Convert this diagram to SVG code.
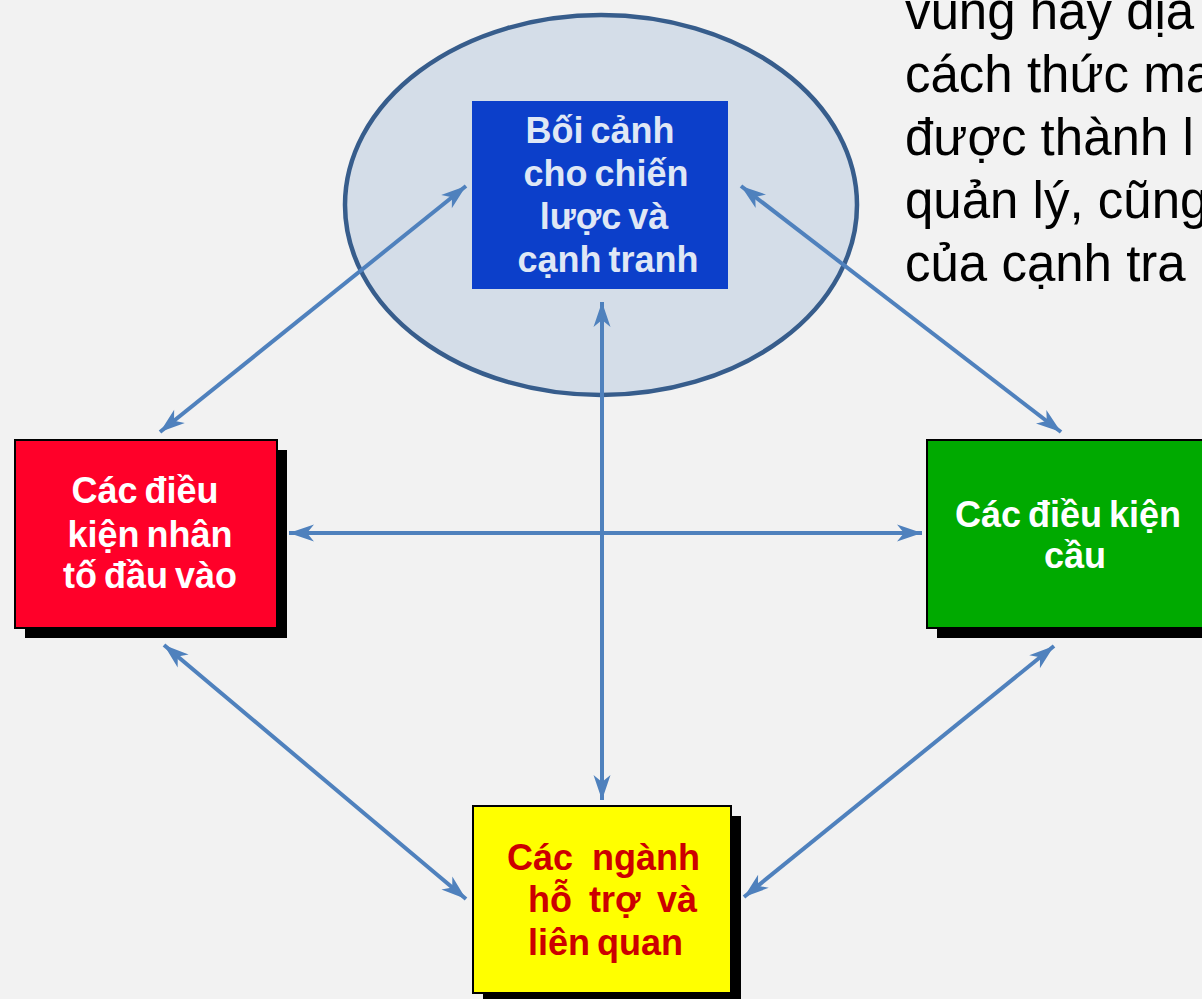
<svg xmlns="http://www.w3.org/2000/svg" width="1202" height="999" viewBox="0 0 1202 999">
  <style>
    .lbl { font-family: "Liberation Sans", Arial, sans-serif; font-weight: bold; font-size: 36px; text-anchor: middle; word-spacing: -3px; }
    .side { font-family: "Liberation Sans", Arial, sans-serif; font-size: 51px; fill: #000; }
    .link { stroke: #4f81bd; stroke-width: 4; fill: none; marker-start: url(#head); marker-end: url(#head); }
    .shadow { fill: #000; }
    .box { stroke: #000; stroke-width: 2; }
  </style>
  <defs>
    <marker id="head" markerUnits="userSpaceOnUse" viewBox="-26 -9 28 18" refX="0" refY="0" markerWidth="28" markerHeight="18" orient="auto-start-reverse">
      <path d="M0,0 L-25,-8.5 L-18,0 L-25,8.5 Z" fill="#4f81bd"/>
    </marker>
  </defs>

  <rect width="1202" height="999" fill="#f2f2f2"/>

  <!-- explanatory text running off the right edge -->
  <g id="side-text" class="side">
    <text x="905" y="29">vùng hay địa</text>
    <text x="905" y="92">cách thức ma</text>
    <text x="905" y="155">được thành l</text>
    <text x="905" y="218">quản lý, cũng</text>
    <text x="905" y="281">của cạnh tra</text>
  </g>

  <!-- ellipse around the strategy node -->
  <g id="context-ring">
    <ellipse cx="601" cy="205" rx="256" ry="190" fill="#d4dde8" stroke="#375d8c" stroke-width="4.5"/>
  </g>

  <g id="connectors">
    <line class="link" x1="160" y1="432" x2="466" y2="186"/>
    <line class="link" x1="741" y1="186" x2="1061" y2="432"/>
    <line class="link" x1="602" y1="302" x2="602" y2="800"/>
    <line class="link" x1="289" y1="533" x2="922" y2="533"/>
    <line class="link" x1="164" y1="645" x2="466" y2="899"/>
    <line class="link" x1="1054" y1="646" x2="744" y2="897"/>
  </g>

  <g id="strategy">
    <rect x="472" y="101" width="256" height="188" fill="#0c3fca"/>
    <g class="lbl" fill="#dfe7f5">
      <text x="600" y="143">Bối cảnh</text>
      <text x="606" y="186">cho chiến</text>
      <text x="604" y="229">lược và</text>
      <text x="608" y="272">cạnh tranh</text>
    </g>
  </g>

  <g id="factor-conditions">
    <rect class="shadow" x="25" y="450" width="262" height="188"/>
    <rect class="box" x="15" y="440" width="262" height="188" fill="#ff0029"/>
    <g class="lbl" fill="#fff">
      <text x="145" y="503">Các điều</text>
      <text x="150" y="547">kiện nhân</text>
      <text x="150" y="588">tố đầu vào</text>
    </g>
  </g>

  <g id="demand-conditions">
    <rect class="shadow" x="937" y="450" width="280" height="188"/>
    <rect class="box" x="927" y="440" width="280" height="188" fill="#00aa00"/>
    <g class="lbl" fill="#fff">
      <text x="1068" y="527">Các điều kiện</text>
      <text x="1075" y="568">cầu</text>
    </g>
  </g>

  <g id="related-industries">
    <rect class="shadow" x="483" y="816" width="258" height="187"/>
    <rect class="box" x="473" y="806" width="258" height="187" fill="#ffff00"/>
    <g class="lbl" fill="#cc0000" style="text-anchor:start">
      <text y="870"><tspan x="507">Các</tspan><tspan x="592">ngành</tspan></text>
      <text y="912"><tspan x="528">hỗ</tspan><tspan x="589">trợ</tspan><tspan x="657">và</tspan></text>
      <text y="955"><tspan x="528">liên quan</tspan></text>
    </g>
  </g>
</svg>
